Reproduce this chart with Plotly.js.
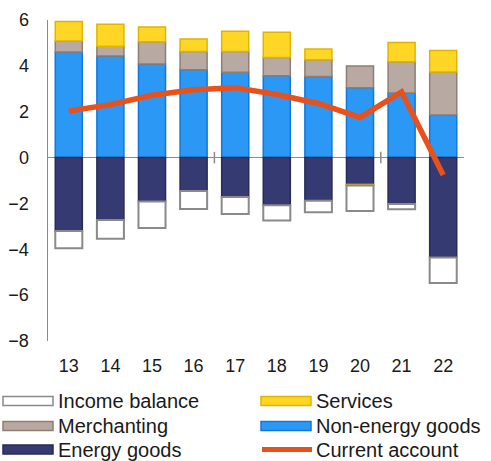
<!DOCTYPE html>
<html><head><meta charset="utf-8">
<script src="https://cdn.plot.ly/plotly-3.0.1.min.js"></script>
<style>html,body{margin:0;padding:0;background:#fff}#chart{width:491px;height:461px}</style>
</head><body><div id="chart"></div>
<script>
const years = ['13','14','15','16','17','18','19','20','21','22'];
const nonEnergyGoods = [4.60, 4.43, 4.08, 3.83, 3.72, 3.57, 3.54, 3.05, 2.82, 1.86];
const energyGoods = [-3.20, -2.72, -1.92, -1.46, -1.72, -2.08, -1.88, -1.17, -2.03, -4.36];
const merchanting = [0.48, 0.42, 0.97, 0.80, 0.91, 0.79, 0.73, 0.94, 1.36, 1.87];
const services = [0.85, 0.97, 0.64, 0.54, 0.88, 1.11, 0.46, -0.05, 0.84, 0.94];
const incomeBalance = [-0.75, -0.82, -1.15, -0.78, -0.74, -0.67, -0.50, -1.11, -0.22, -1.11];
const currentAccount = [2.03, 2.31, 2.72, 2.96, 3.05, 2.75, 2.36, 1.75, 2.86, -0.76];
const yTicks = [-8, -6, -4, -2, 0, 2, 4, 6];

const W = 491, H = 461;
const M = {l: 48, r: 27, t: 20, b: 120};
const PW = W - M.l - M.r, PH = H - M.t - M.b;
const px = x => (x - M.l) / PW;
const py = y => (H - M.b - y) / PH;

const FONT = 'Liberation Sans, Arial, sans-serif';
const TXT = '#1a1a1a';

const barDefs = [
  {name: 'Non-energy goods', y: nonEnergyGoods, fill: '#2c98f5', line: '#1177dd', lw: 1.5},
  {name: 'Energy goods', y: energyGoods, fill: '#353b72', line: '#262a58', lw: 1.5},
  {name: 'Merchanting', y: merchanting, fill: '#b8aaa2', line: '#907e72', lw: 1.5},
  {name: 'Services', y: services, fill: '#ffd625', line: '#e0b500', lw: 1.5},
  {name: 'Income balance', y: incomeBalance, fill: '#ffffff', line: '#8a8a8a', lw: 2}
];

const traces = barDefs.map(d => ({
  type: 'bar', x: years, y: d.y, name: d.name, width: 0.65,
  marker: {color: d.fill, line: {color: d.line, width: d.lw}},
  showlegend: false, hoverinfo: 'x+y+name'
}));
traces.push({
  type: 'scatter', mode: 'lines', x: years, y: currentAccount, name: 'Current account',
  line: {color: '#e8511c', width: 5.5}, showlegend: false
});

// custom legend (wide rectangle swatches)
const legendItems = [
  {name: 'Income balance', fill: '#ffffff', line: '#8a8a8a', col: 0, row: 0},
  {name: 'Services', fill: '#ffd625', line: '#e0b500', col: 1, row: 0},
  {name: 'Merchanting', fill: '#b8aaa2', line: '#907e72', col: 0, row: 1},
  {name: 'Non-energy goods', fill: '#2c98f5', line: '#1177dd', col: 1, row: 1},
  {name: 'Energy goods', fill: '#353b72', line: '#262a58', col: 0, row: 2},
  {name: 'Current account', isLine: true, col: 1, row: 2}
];
const colX = [3, 261];
const rowY = [401, 426, 449.5];
const shapes = [];
const annotations = [];
legendItems.forEach(it => {
  const x0 = colX[it.col], yc = rowY[it.row];
  if (it.isLine) {
    shapes.push({type: 'line', xref: 'paper', yref: 'paper', x0: px(x0 + 1), x1: px(x0 + 51), y0: py(yc), y1: py(yc),
      line: {color: '#e8511c', width: 5}});
  } else {
    shapes.push({type: 'rect', xref: 'paper', yref: 'paper', x0: px(x0), x1: px(x0 + 50), y0: py(yc - 4.5), y1: py(yc + 4.5),
      fillcolor: it.fill, line: {color: it.line, width: 1.5}});
  }
  annotations.push({xref: 'paper', yref: 'paper', x: px(x0 + 53), y: py(yc), xanchor: 'left', yanchor: 'middle',
    text: it.name, showarrow: false, font: {family: FONT, size: 20, color: TXT}});
});
// small tick marks crossing the zero line
[3.5, 7.5].forEach(v => shapes.push({type: 'line', xref: 'x', yref: 'y', x0: v, x1: v, y0: -0.25, y1: 0.25,
  line: {color: '#8a8a8a', width: 1.5}}));

const layout = {
  width: W, height: H, margin: M, paper_bgcolor: '#fff', plot_bgcolor: '#fff',
  barmode: 'relative', bargap: 0.35, showlegend: false,
  font: {family: FONT, size: 18, color: TXT},
  xaxis: {type: 'category', showline: false, showgrid: false, zeroline: false, ticks: '', ticklabelstandoff: 12,
    tickfont: {family: FONT, size: 18, color: TXT}, range: [-0.5, 9.5]},
  yaxis: {range: [-8, 6], tickvals: yTicks, showgrid: false, zeroline: true, zerolinecolor: '#8a8a8a', zerolinewidth: 1.5,
    showline: true, linecolor: '#8a8a8a', linewidth: 1.5, ticks: '', ticklabelstandoff: 14,
    tickfont: {family: FONT, size: 18, color: TXT}},
  shapes: shapes, annotations: annotations
};
Plotly.newPlot('chart', traces, layout, {displayModeBar: false, staticPlot: true});
</script></body></html>
